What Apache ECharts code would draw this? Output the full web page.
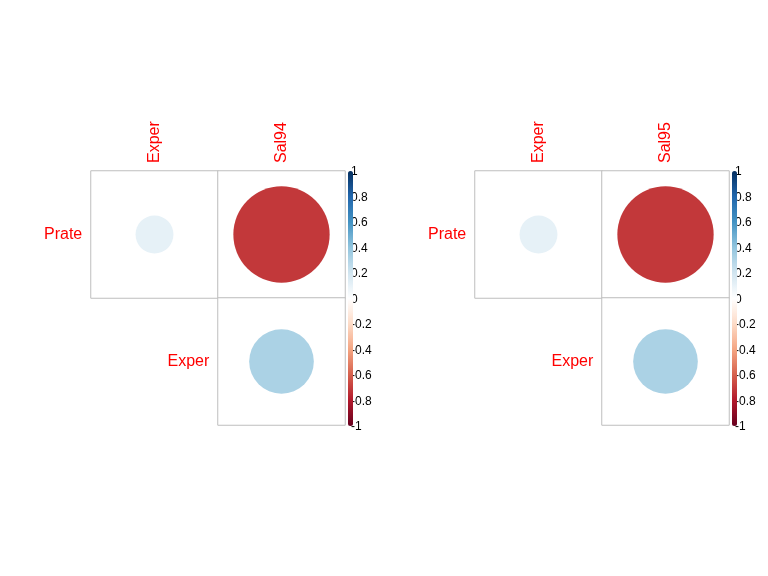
<!DOCTYPE html>
<html><head><meta charset="utf-8">
<script src="https://cdn.jsdelivr.net/npm/echarts@6/dist/echarts.min.js"></script>
<style>html,body{margin:0;padding:0;background:#fff}#c{width:768px;height:576px}</style>
</head><body><div id="c"></div>
<script>
const rowNames = ['Prate', 'Exper'];
const colsLeft = ['Exper', 'Sal94'];
const colsRight = ['Exper', 'Sal95'];
const corrLeft = [[0.11, -0.71], [null, 0.32]];
const corrRight = [[0.11, -0.71], [null, 0.32]];
const legendMin = -1, legendMax = 1, legendStep = 0.2;
const palette = ['#67001F', '#B2182B', '#D6604D', '#F4A582', '#FDDBC7', '#FFFFFF',
                 '#D1E5F0', '#92C5DE', '#4393C3', '#2166AC', '#053061'];

const FONT = 'Liberation Sans, Arial, sans-serif';
const CELL = 127;
const grids = [], xAxes = [], yAxes = [], series = [], visualMaps = [];

function panel(cols, corr, left) {
  const gMain = grids.length;
  grids.push({left: left, top: 171, width: CELL * cols.length, height: CELL * rowNames.length});
  grids.push({left: left + 258, top: 172, width: 1, height: 255});
  const ax = xAxes.length;
  xAxes.push({gridIndex: gMain, type: 'category', data: cols, position: 'top',
    axisLine: {show: false}, axisTick: {show: false}, splitLine: {show: false},
    axisLabel: {rotate: -90, color: '#FF0000', fontSize: 16, fontFamily: FONT, margin: 8}});
  xAxes.push({gridIndex: gMain + 1, type: 'value', show: false});
  yAxes.push({gridIndex: gMain, type: 'category', data: rowNames, inverse: true,
    axisLine: {show: false}, axisTick: {show: false}, splitLine: {show: false},
    axisLabel: {show: false}});
  yAxes.push({gridIndex: gMain + 1, type: 'value', min: legendMin, max: legendMax, interval: legendStep,
    position: 'right', axisLine: {show: false}, axisTick: {show: false}, splitLine: {show: false},
    axisLabel: {color: '#000', fontSize: 12, fontFamily: FONT, margin: 1}});
  const cells = [], dots = [];
  rowNames.forEach((r, ri) => {
    let first = true;
    cols.forEach((c, ci) => {
      const v = corr[ri][ci];
      if (v === null) return;
      const item = {value: [ci, ri, v]};
      if (first) {
        item.label = {show: true, position: 'left', distance: 8, formatter: r,
          color: '#FF0000', fontSize: 16, fontFamily: FONT};
        first = false;
      }
      cells.push(item);
      dots.push([ci, ri, v]);
    });
  });
  series.push({type: 'heatmap', xAxisIndex: ax, yAxisIndex: ax, data: cells, z: 1,
    itemStyle: {color: '#FFFFFF', borderColor: '#BEBEBE', borderWidth: 1},
    label: {show: false}, emphasis: {disabled: true}, silent: true});
  const sIdx = series.length;
  series.push({type: 'scatter', xAxisIndex: ax, yAxisIndex: ax, data: dots, z: 3,
    symbol: 'circle', symbolSize: d => 2 * 0.45 * Math.sqrt(Math.abs(d[2])) * CELL,
    itemStyle: {opacity: 1}, emphasis: {disabled: true}, silent: true});
  visualMaps.push({type: 'continuous', seriesIndex: sIdx, dimension: 2,
    min: legendMin, max: legendMax, calculable: false, text: null, showLabel: false,
    left: left + 257, top: 171, itemWidth: 5, itemHeight: 255, padding: 0,
    inRange: {color: palette, opacity: 1}});
}
panel(colsLeft, corrLeft, 91);
panel(colsRight, corrRight, 475);

const chart = echarts.init(document.getElementById('c'), null, {renderer: 'canvas'});
chart.setOption({
  animation: false, backgroundColor: '#FFFFFF',
  grid: grids, xAxis: xAxes, yAxis: yAxes, visualMap: visualMaps, series: series
});
</script></body></html>
